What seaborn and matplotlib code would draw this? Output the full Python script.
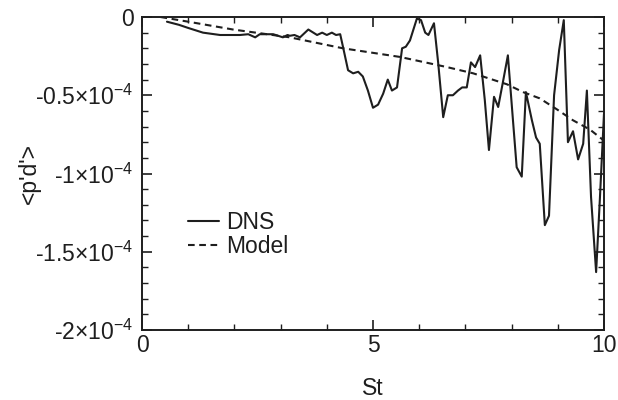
import pandas as pd
import numpy as np
import matplotlib
matplotlib.use('Agg')
import matplotlib.pyplot as plt
import seaborn as sns
from matplotlib.ticker import MultipleLocator

# values, y in units of 1e-4
dns_st = [0.54, 0.8, 1.0, 1.32, 1.69, 2.12, 2.3, 2.45, 2.55, 2.84,
          3.05, 3.15, 3.2, 3.3, 3.42, 3.6, 3.79, 3.9, 4.0, 4.11,
          4.2, 4.29, 4.35, 4.46, 4.57, 4.68, 4.78, 4.89, 5.0, 5.11,
          5.22, 5.32, 5.41, 5.52, 5.63, 5.71, 5.8, 5.95, 6.04, 6.13,
          6.2, 6.32, 6.41, 6.52, 6.62, 6.73, 6.84, 6.93, 7.03, 7.12,
          7.21, 7.32, 7.42, 7.51, 7.62, 7.71, 7.81, 7.92, 8.03, 8.11,
          8.22, 8.31, 8.44, 8.53, 8.61, 8.72, 8.81, 8.92, 9.03, 9.13,
          9.22, 9.33, 9.44, 9.55, 9.63, 9.72, 9.83, 9.91, 10.0]
dns_pd = [-0.03, -0.05, -0.07, -0.10, -0.115, -0.115, -0.11, -0.13, -0.11, -0.11,
          -0.13, -0.115, -0.12, -0.115, -0.13, -0.08, -0.115, -0.10, -0.115, -0.10,
          -0.115, -0.11, -0.19, -0.34, -0.36, -0.35, -0.38, -0.47, -0.58, -0.56,
          -0.49, -0.40, -0.47, -0.45, -0.20, -0.19, -0.15, -0.01, -0.02, -0.10,
          -0.115, -0.04, -0.29, -0.64, -0.50, -0.50, -0.47, -0.45, -0.45, -0.29,
          -0.32, -0.245, -0.53, -0.85, -0.51, -0.575, -0.42, -0.245, -0.66, -0.96,
          -1.02, -0.48, -0.66, -0.77, -0.81, -1.33, -1.27, -0.50, -0.21, -0.02,
          -0.80, -0.73, -0.91, -0.81, -0.47, -1.15, -1.63, -1.17, -0.62]

model_st = [0.4, 1.0, 1.97, 3.2, 4.35, 5.58, 6.6, 7.17, 7.9, 8.25, 8.61, 8.98, 9.33, 9.7, 10.0]
model_pd = [-0.0, -0.03, -0.08, -0.13, -0.20, -0.255, -0.32, -0.36, -0.43, -0.48, -0.52, -0.59, -0.66, -0.72, -0.79]

ytick_vals = [0, -0.5, -1, -1.5, -2]
ytick_labels = ['0', '-0.5×10$^{-4}$', '-1×10$^{-4}$', '-1.5×10$^{-4}$', '-2×10$^{-4}$']
xtick_vals = [0, 5, 10]

dns = pd.DataFrame({'St': dns_st, 'pd': dns_pd})
model = pd.DataFrame({'St': model_st, 'pd': model_pd})

sns.set_style('ticks')
plt.rcParams['font.family'] = ['Liberation Sans', 'DejaVu Sans']
plt.rcParams['mathtext.fontset'] = 'custom'
plt.rcParams['mathtext.rm'] = 'Liberation Sans'
plt.rcParams['mathtext.it'] = 'Liberation Sans'
plt.rcParams['axes.unicode_minus'] = False

ink = '#1e1e1e'
fs = 16.5
fig = plt.figure(figsize=(6.18, 4.0), dpi=100)
ax = fig.add_axes([0.2298, 0.175, 0.7475, 0.7825])

sns.lineplot(data=dns, x='St', y='pd', ax=ax, color=ink, linewidth=1.5,
             estimator=None, label='DNS')
sns.lineplot(data=model, x='St', y='pd', ax=ax, color=ink, linewidth=1.5,
             estimator=None, label='Model', dashes=False)
ax.lines[1].set_dashes((3.2, 2.2))

ax.set_xlim(0, 10)
ax.set_ylim(-2, 0)
ax.set_xticks(xtick_vals)
ax.set_yticks(ytick_vals)
ax.set_yticklabels(ytick_labels)
ax.xaxis.set_minor_locator(MultipleLocator(1))
ax.yaxis.set_minor_locator(MultipleLocator(0.1))
ax.tick_params(which='both', direction='in', top=True, right=True, color=ink,
               labelsize=fs, labelcolor=ink)
ax.tick_params(which='major', length=7, width=1.2)
ax.tick_params(which='minor', length=4, width=1.0)
ax.tick_params(axis='x', pad=3)
ax.tick_params(axis='y', pad=6)
for s in ax.spines.values():
    s.set_color(ink)
    s.set_linewidth(1.4)

ax.set_xlabel('St', fontsize=fs, color=ink, labelpad=14)
ax.set_ylabel("<p'd'>", fontsize=fs, color=ink, labelpad=-4)

leg = ax.legend(loc='center left', bbox_to_anchor=(0.055, 0.305), frameon=False,
                fontsize=fs, handlelength=1.35, handletextpad=0.3, labelspacing=0.05)
for t in leg.get_texts():
    t.set_color(ink)

fig.savefig('out.png', dpi=100)
